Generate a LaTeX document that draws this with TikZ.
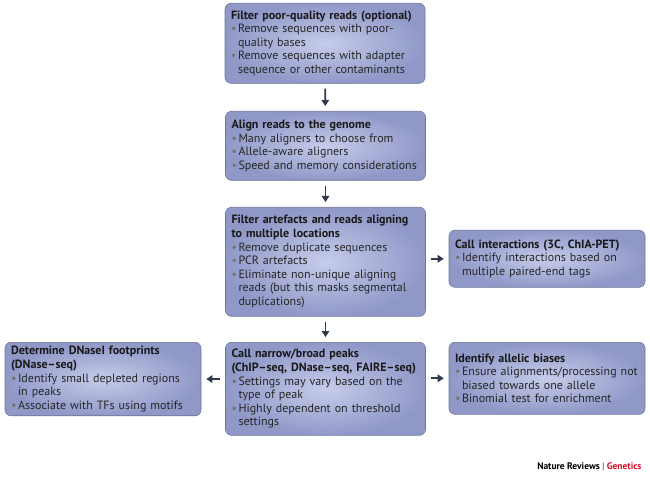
\documentclass[tikz,border=0pt]{standalone}
\usepackage{fontspec}
\setmainfont{PT Sans}
\usetikzlibrary{arrows.meta}

\definecolor{boxin}{HTML}{C6CCEA}
\definecolor{boxout}{HTML}{9098C8}
\definecolor{boxline}{HTML}{6F7598}
\definecolor{arrowcol}{HTML}{2E3B4A}
\definecolor{textcol}{HTML}{262626}
\definecolor{ngred}{HTML}{D0112B}

\newcommand{\boxhead}[1]{{\bfseries\color{black!90}#1}\par}
\newcommand{\bitem}[1]{\noindent\makebox[7pt][l]{\textcolor{black!55}{\textbullet}}#1\par}
\newcommand{\cont}{\break\hspace*{7pt}}

\begin{document}
\begin{tikzpicture}[
    x=1pt, y=-1pt,
    stepbox/.style={draw=boxline, line width=0.6pt, rounded corners=6pt,
        inner color=boxin, outer color=boxout, anchor=north,
        text width=188pt, inner xsep=6pt, inner ysep=4pt, align=left,
        font=\fontsize{12}{13.6}\selectfont, text=textcol},
    flow/.style={-{Triangle[length=6pt,width=7.5pt]}, line width=1.7pt,
        draw=arrowcol, shorten <=5pt, shorten >=5pt}
]
    \fill[white] (0,0) rectangle (650,478);
    \useasboundingbox (0,0) rectangle (650,478);

    \node[stepbox, minimum height=80pt] at (325,3) (filter) {\boxhead{Filter poor-quality reads (optional)}
        \bitem{Remove sequences with poor-\cont quality bases}
        \bitem{Remove sequences with adapter\cont sequence or other contaminants}};
    \node[stepbox, minimum height=69pt] at (325.5,111) (align) {\boxhead{Align reads to the genome}
        \bitem{Many aligners to choose from}
        \bitem{Allele-aware aligners}
        \bitem{Speed and memory considerations}};
    \node[stepbox, minimum height=109pt] at (325.5,207) (artefact) {\boxhead{Filter artefacts and reads aligning\break to multiple locations}
        \bitem{Remove duplicate sequences}
        \bitem{PCR artefacts}
        \bitem{Eliminate non-unique aligning\cont reads (but this masks segmental\cont duplications)}};
    \node[stepbox, minimum height=57pt, text width=184pt] at (547,230) (interact) {\boxhead{Call interactions (3C, ChIA-PET)}
        \bitem{Identify interactions based on\cont multiple paired-end tags}};
    \node[stepbox, minimum height=93pt] at (325.5,342) (peaks) {\boxhead{Call narrow/broad peaks\break (ChIP--seq, DNase--seq, FAIRE--seq)}
        \bitem{Settings may vary based on the\cont type of peak}
        \bitem{Highly dependent on threshold\cont settings}};
    \node[stepbox, minimum height=72pt, text width=184pt] at (103,342) (footprint) {\boxhead{Determine DNaseI footprints\break (DNase--seq)}
        \bitem{Identify small depleted regions\cont in peaks}
        \bitem{Associate with TFs using motifs}};
    \node[stepbox, minimum height=72pt, text width=184pt] at (547,342) (allelic) {\boxhead{Identify allelic biases}
        \bitem{Ensure alignments/processing not\cont biased towards one allele}
        \bitem{Binomial test for enrichment}};

    \draw[flow] (filter) -- (align);
    \draw[flow] (align) -- (artefact);
    \draw[flow] (artefact) -- (peaks);
    \draw[flow] (artefact.east |- interact.west) -- (interact.west);
    \draw[flow] (peaks.west |- footprint.east) -- (footprint.east);
    \draw[flow] (peaks.east |- allelic.west) -- (allelic.west);

    \node[anchor=east, font=\fontsize{9.5}{11}\selectfont\bfseries] at (645,467) (credit)
        {Nature Reviews {\color{black!50}|} \textcolor{ngred}{Genetics}};
\end{tikzpicture}
\end{document}
